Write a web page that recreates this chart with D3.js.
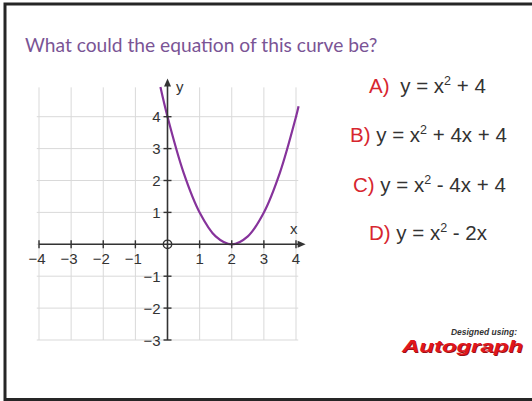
<!DOCTYPE html>
<html>
<head>
<meta charset="utf-8">
<script src="https://cdn.jsdelivr.net/npm/d3@7"></script>
<style>
  html, body { margin: 0; padding: 0; background: #fff; overflow: hidden; }
  svg { display: block; }
</style>
</head>
<body>
<svg id="chart" width="532" height="401"></svg>
<script>
// Axis ticks and grid lines
const xTicks = [-4, -3, -2, -1, 1, 2, 3, 4];
const yTicks = [-3, -2, -1, 1, 2, 3, 4];
const gridX = [-4, -3, -2, -1, 0, 1, 2, 3, 4];
const gridY = [-3, -2, -1, 0, 1, 2, 3, 4];

// Points on the plotted curve
const curveX = [-0.22, 0, 0.5, 1, 1.5, 2, 2.5, 3, 3.5, 4, 4.08];
const curveY = [4.93, 4, 2.25, 1, 0.25, 0, 0.25, 1, 2.25, 4, 4.33];

// Answer choices
const choiceLetters = ["A)", "B)", "C)", "D)"];
const choiceLeft = ["y = x", "y = x", "y = x", "y = x"];
const choiceRight = [" + 4", " + 4x + 4", " - 4x + 4", " - 2x"];

const title = "What could the equation of this curve be?";

const svg = d3.select("#chart");

// Outer frame
svg.append("rect")
  .attr("x", 5).attr("y", 4)
  .attr("width", 560).attr("height", 395.5)
  .attr("fill", "#fff")
  .attr("stroke", "#262626")
  .attr("stroke-width", 3);

// Title
svg.append("text")
  .attr("x", 25).attr("y", 52)
  .attr("font-family", "Lato, 'Open Sans', sans-serif")
  .attr("font-size", 19.2)
  .attr("fill", "#7a5495")
  .text(title);

// Scales
const x = d3.scaleLinear().domain([-4, 4]).range([39, 296]);
const y = d3.scaleLinear().domain([-3, 4]).range([340, 116.7]);

const g = svg.append("g");

// Grid
g.append("g").selectAll("line").data(gridX).join("line")
  .attr("x1", d => x(d)).attr("x2", d => x(d))
  .attr("y1", y(-3)).attr("y2", y(4.92))
  .attr("stroke", "#d9d9d9").attr("stroke-width", 1);
g.append("g").selectAll("line").data(gridY).join("line")
  .attr("x1", x(-4.07)).attr("x2", x(4.07))
  .attr("y1", d => y(d)).attr("y2", d => y(d))
  .attr("stroke", "#d9d9d9").attr("stroke-width", 1);

// Curve
const line = d3.line()
  .x(d => x(d[0])).y(d => y(d[1]))
  .curve(d3.curveCatmullRom.alpha(0.5));
g.append("path")
  .datum(d3.zip(curveX, curveY))
  .attr("d", line)
  .attr("fill", "none")
  .attr("stroke", "#86339b")
  .attr("stroke-width", 2.2);

const axisColor = "#333";

// Axes lines
g.append("line")
  .attr("x1", x(-4)).attr("x2", x(4.22))
  .attr("y1", y(0)).attr("y2", y(0))
  .attr("stroke", axisColor).attr("stroke-width", 1.6);
g.append("line")
  .attr("x1", x(0)).attr("x2", x(0))
  .attr("y1", y(-3)).attr("y2", y(5.05))
  .attr("stroke", axisColor).attr("stroke-width", 1.6);

// Arrow heads
const xt = x(4.3), yt = y(0);
g.append("path")
  .attr("d", `M${xt},${yt} L${xt - 8},${yt - 3.5} L${xt - 8},${yt + 3.5} Z`)
  .attr("fill", axisColor);
const ax = x(0), ay = y(5.2);
g.append("path")
  .attr("d", `M${ax},${ay} L${ax - 3.5},${ay + 8} L${ax + 3.5},${ay + 8} Z`)
  .attr("fill", axisColor);

// Tick marks
g.append("g").selectAll("line").data(xTicks).join("line")
  .attr("x1", d => x(d)).attr("x2", d => x(d))
  .attr("y1", y(0) - 4).attr("y2", y(0) + 4)
  .attr("stroke", axisColor).attr("stroke-width", 1.4);
g.append("g").selectAll("line").data(yTicks).join("line")
  .attr("x1", x(0) - 4).attr("x2", x(0) + 4)
  .attr("y1", d => y(d)).attr("y2", d => y(d))
  .attr("stroke", axisColor).attr("stroke-width", 1.4);

// Origin marker
g.append("circle")
  .attr("cx", x(0)).attr("cy", y(0)).attr("r", 4.2)
  .attr("fill", "none").attr("stroke", axisColor).attr("stroke-width", 1.4);

const fmt = d => (d < 0 ? "\u2212" + Math.abs(d) : String(d));

// Tick labels
g.append("g").selectAll("text").data(xTicks).join("text")
  .attr("x", d => x(d) - (d < 0 ? 2 : 0)).attr("y", y(0) + 20)
  .attr("text-anchor", "middle")
  .attr("font-family", "'Liberation Sans', Arial, sans-serif")
  .attr("font-size", 15)
  .attr("fill", "#333")
  .text(fmt);
g.append("g").selectAll("text").data(yTicks).join("text")
  .attr("x", x(0) - 7).attr("y", d => y(d) + 5.5)
  .attr("text-anchor", "end")
  .attr("font-family", "'Liberation Sans', Arial, sans-serif")
  .attr("font-size", 15)
  .attr("fill", "#333")
  .text(fmt);

// Axis names
g.append("text").attr("x", 176).attr("y", 92)
  .attr("font-family", "'Liberation Sans', Arial, sans-serif")
  .attr("font-size", 15).attr("fill", "#333").text("y");
g.append("text").attr("x", 290).attr("y", 234)
  .attr("font-family", "'Liberation Sans', Arial, sans-serif")
  .attr("font-size", 15).attr("fill", "#333").text("x");

// Answer choices
const choiceStart = [369, 350, 353, 369];
const choiceBase = [93, 142, 192, 240];
const cg = svg.append("g")
  .attr("font-family", "'Liberation Sans', Arial, sans-serif")
  .attr("font-size", 20.5);
choiceLetters.forEach((L, i) => {
  const t = cg.append("text").attr("x", choiceStart[i]).attr("y", choiceBase[i]).attr("fill", "#333");
  t.append("tspan").attr("fill", "#d7262f").text(L);
  t.append("tspan").attr("xml:space", "preserve").attr("dx", i === 0 ? 5 : 0).text(" " + choiceLeft[i]);
  t.append("tspan").attr("font-size", 12.5).attr("dy", -8).text("2");
  t.append("tspan").attr("dy", 8).text(choiceRight[i]);
});

// Software credit
svg.append("text")
  .attr("x", 517).attr("y", 335)
  .attr("text-anchor", "end")
  .attr("font-family", "'Liberation Sans', Arial, sans-serif")
  .attr("font-style", "italic")
  .attr("font-weight", "bold")
  .attr("font-size", 8.5)
  .attr("fill", "#333")
  .text("Designed using:");
svg.append("text")
  .attr("x", 403).attr("y", 353)
  .attr("font-family", "'Liberation Sans', Arial, sans-serif")
  .attr("font-weight", "bold")
  .attr("font-style", "italic")
  .attr("font-size", 17)
  .attr("fill", "#9a0f14")
  .attr("textLength", 121)
  .attr("lengthAdjust", "spacingAndGlyphs")
  .text("Autograph");
svg.append("text")
  .attr("x", 402).attr("y", 352)
  .attr("font-family", "'Liberation Sans', Arial, sans-serif")
  .attr("font-weight", "bold")
  .attr("font-style", "italic")
  .attr("font-size", 17)
  .attr("fill", "#e0161c")
  .attr("textLength", 121)
  .attr("lengthAdjust", "spacingAndGlyphs")
  .text("Autograph");
</script>
</body>
</html>
